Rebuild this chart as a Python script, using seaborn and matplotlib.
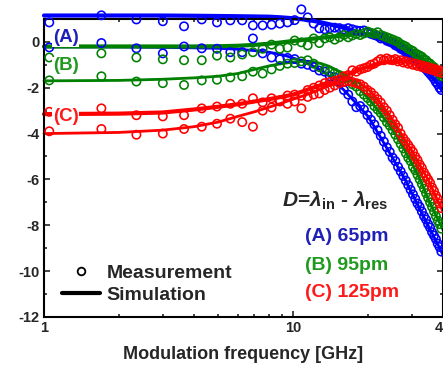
import matplotlib
matplotlib.use('Agg')
import matplotlib.pyplot as plt
import seaborn as sns
from matplotlib.lines import Line2D
from matplotlib.ticker import FixedLocator, NullFormatter

# ── Data ──────────────────────────────────────────────────────────────────────
freq_meas = [1.05, 1.70, 2.35, 3.00, 3.65, 4.30, 4.95, 5.60, 6.25, 6.90,
             7.55, 8.20, 8.85, 9.50, 10.15, 10.80, 11.45, 12.10, 12.75, 13.40,
             14.05, 14.70, 15.35, 16.00, 16.65, 17.30, 17.95, 18.60, 19.25, 19.90,
             20.55, 21.20, 21.85, 22.50, 23.15, 23.80, 24.45, 25.10, 25.75, 26.40,
             27.05, 27.70, 28.35, 29.00, 29.65, 30.30, 30.95, 31.60, 32.25, 32.90,
             33.55, 34.20, 34.85, 35.50, 36.15, 36.80, 37.45, 38.10, 38.75, 39.40]

meas_a_up = [0.85, 1.16, 0.98, 0.9, 0.68, 0.98, 0.85, 0.94, 0.94, 0.72,
             0.72, 0.75, 0.8, 0.85, 0.95, 1.42, 1.07, 0.8, 0.59, 0.55,
             0.6, 0.62, 0.6, 0.55, 0.6, 0.55, 0.5, 0.48, 0.5, 0.42,
             0.35, 0.3, 0.25, 0.15, 0.2, 0.05, 0.0, -0.05, -0.15, -0.2,
             -0.3, -0.35, -0.45, -0.5, -0.6, -0.7, -0.75, -0.85, -0.95, -1.0,
             -1.1, -1.2, -1.3, -1.4, -1.5, -1.6, -1.75, -1.85, -2.0, -2.1]
meas_a_lo = [-0.24, -0.05, -0.28, -0.5, -0.2, -0.28, -0.3, -0.45, -0.45, 0.15,
             -0.5, -0.68, -0.76, -0.7, -0.75, -0.95, -1.0, -1.1, -1.25, -1.3,
             -1.5, -1.55, -1.75, -2.1, -2.3, -2.6, -2.85, -2.8, -2.95, -3.2,
             -3.4, -3.6, -3.85, -4.1, -4.35, -4.6, -4.8, -5.05, -5.2, -5.45,
             -5.65, -5.85, -6.05, -6.25, -6.45, -6.65, -6.85, -7.05, -7.2, -7.4,
             -7.6, -7.75, -7.95, -8.1, -8.3, -8.45, -8.6, -8.8, -8.95, -9.15]
meas_b_up = [-0.68, -0.5, -0.68, -0.76, -0.8, -0.8, -0.6, -0.68, -0.55, -0.45,
             -0.3, -0.12, -0.3, -0.25, 0.06, -0.02, -0.15, 0.15, -0.05, 0.15,
             0.2, 0.1, 0.2, 0.3, 0.2, 0.28, 0.35, 0.3, 0.37, 0.45,
             0.4, 0.35, 0.42, 0.3, 0.25, 0.2, 0.15, 0.1, 0.05, 0.0,
             -0.1, -0.15, -0.2, -0.3, -0.35, -0.4, -0.5, -0.55, -0.6, -0.65,
             -0.75, -0.8, -0.9, -0.95, -1.05, -1.1, -1.2, -1.3, -1.4, -1.5]
meas_b_lo = [-1.68, -1.5, -1.73, -1.8, -1.88, -1.68, -1.65, -1.55, -1.5, -1.3,
             -1.38, -1.2, -1.05, -0.95, -0.92, -0.85, -0.8, -0.95, -1.1, -1.2,
             -1.3, -1.35, -1.45, -1.6, -1.7, -1.85, -1.95, -2.15, -2.3, -2.45,
             -2.6, -2.8, -2.95, -3.1, -3.3, -3.5, -3.65, -3.85, -4.05, -4.25,
             -4.45, -4.65, -4.85, -5.05, -5.2, -5.45, -5.6, -5.8, -6.0, -6.2,
             -6.4, -6.6, -6.8, -7.0, -7.2, -7.4, -7.6, -7.8, -7.95, -8.15]
meas_c_up = [-3.05, -2.9, -3.2, -3.25, -3.2, -2.9, -2.82, -2.7, -2.7, -2.46,
             -2.64, -2.46, -2.6, -2.34, -2.3, -2.35, -2.1, -2.0, -1.9, -1.8,
             -1.75, -1.7, -1.65, -1.5, -1.45, -1.24, -1.3, -1.2, -1.15, -1.1,
             -1.0, -0.95, -0.85, -0.75, -0.8, -0.72, -0.78, -0.8, -0.75, -0.85,
             -0.8, -0.9, -0.85, -0.95, -0.9, -1.0, -0.95, -1.05, -1.0, -1.1,
             -1.05, -1.15, -1.1, -1.2, -1.15, -1.25, -1.2, -1.3, -1.25, -1.35]
meas_c_lo = [-3.9, -3.8, -4.05, -4.0, -3.8, -3.7, -3.57, -3.35, -3.5, -3.7,
             -3.0, -2.86, -2.55, -2.7, -2.6, -2.9, -2.4, -2.3, -2.25, -2.1,
             -2.0, -1.9, -1.8, -1.75, -1.7, -1.75, -1.8, -1.85, -1.95, -2.1,
             -2.2, -2.35, -2.5, -2.65, -2.85, -3.0, -3.2, -3.4, -3.6, -3.75,
             -4.0, -4.2, -4.35, -4.5, -4.65, -4.8, -5.0, -5.15, -5.35, -5.5,
             -5.7, -5.85, -6.0, -6.15, -6.35, -6.5, -6.7, -6.85, -7.05, -7.25]

freq_sim = [1, 2, 3, 4, 5, 6, 7, 8, 9, 10, 11, 12, 13, 14, 16, 18, 20,
            22, 24, 26, 28, 30, 32, 35, 38, 40]
sim_a_up = [1.15, 1.15, 1.15, 1.14, 1.13, 1.12, 1.11, 1.1, 1.07, 1.03, 0.98, 0.92, 0.85,
            0.77, 0.62, 0.45, 0.3, 0.15, -0.05, -0.25, -0.45, -0.68, -0.92, -1.35, -1.8, -2.15]
sim_a_lo = [-0.22, -0.22, -0.24, -0.26, -0.28, -0.32, -0.38, -0.45, -0.55, -0.7, -0.86, -1.05, -1.25,
            -1.5, -2.1, -2.7, -3.25, -4.0, -4.7, -5.35, -5.95, -6.6, -7.2, -8.05, -8.8, -9.3]
sim_b_up = [-0.2, -0.2, -0.2, -0.2, -0.19, -0.17, -0.13, -0.08, -0.02, 0.04, 0.09, 0.14, 0.18,
            0.22, 0.28, 0.33, 0.34, 0.3, 0.2, 0.05, -0.15, -0.38, -0.6, -0.95, -1.35, -1.6]
sim_b_lo = [-1.7, -1.68, -1.63, -1.57, -1.5, -1.38, -1.2, -1.05, -0.95, -0.88, -0.84, -0.86, -0.95,
            -1.07, -1.4, -1.9, -2.45, -3.0, -3.55, -4.1, -4.7, -5.3, -5.9, -6.9, -7.7, -8.2]
sim_c_up = [-3.15, -3.13, -3.08, -2.95, -2.83, -2.72, -2.6, -2.5, -2.4, -2.3, -2.15, -2.0, -1.88,
            -1.75, -1.5, -1.25, -1.08, -0.95, -0.87, -0.84, -0.85, -0.9, -0.95, -1.05, -1.18, -1.3]
sim_c_lo = [-4.0, -3.95, -3.85, -3.7, -3.5, -3.25, -3.05, -2.85, -2.67, -2.5, -2.35, -2.2, -2.05,
            -1.9, -1.72, -1.72, -2.05, -2.55, -3.1, -3.65, -4.25, -4.75, -5.3, -6.05, -6.9, -7.4]

curve_labels = ['(A)', '(B)', '(C)']
label_y = [0.17, -1.05, -3.25]
detuning_labels = ['(A) 65pm', '(B) 95pm', '(C) 125pm']
line_colors = ['#0000ff', '#008000', '#ff0000']
text_colors = ['#2020b8', '#1f9a1f', '#ff1a1a']

x_ticks = [1, 10, 40]
y_ticks = [-12, -10, -8, -6, -4, -2, 0]

# ── Style ─────────────────────────────────────────────────────────────────────
sns.set_style('ticks')
plt.rcParams['font.family'] = ['Liberation Sans', 'DejaVu Sans']
plt.rcParams['font.weight'] = 'bold'
plt.rcParams['axes.unicode_minus'] = False
plt.rcParams['mathtext.fontset'] = 'custom'
plt.rcParams['mathtext.rm'] = 'Liberation Sans:bold'
plt.rcParams['mathtext.bf'] = 'Liberation Sans:bold'
plt.rcParams['mathtext.it'] = 'Liberation Sans:italic:bold'
plt.rcParams['mathtext.bfit'] = 'Liberation Sans:italic:bold'

fig = plt.figure(figsize=(4.43, 3.72), dpi=100)
ax = fig.add_axes([0.0993, 0.148, 0.9007, 0.801])

# ── Curves ────────────────────────────────────────────────────────────────────
series = [
    (meas_a_up, meas_a_lo, sim_a_up, sim_a_lo),
    (meas_b_up, meas_b_lo, sim_b_up, sim_b_lo),
    (meas_c_up, meas_c_lo, sim_c_up, sim_c_lo),
]
for (m_up, m_lo, s_up, s_lo), col in zip(series, line_colors):
    sns.lineplot(x=freq_sim, y=s_up, color=col, lw=3.0, ax=ax, clip_on=False,
                 legend=False, zorder=2)
    sns.lineplot(x=freq_sim, y=s_lo, color=col, lw=2.0, ax=ax, clip_on=False,
                 legend=False, zorder=2)
    for m in (m_up, m_lo):
        sns.scatterplot(x=freq_meas, y=m, marker='o', s=36, facecolor='none',
                        edgecolor=col, linewidth=1.15, ax=ax, clip_on=False,
                        legend=False, zorder=3)

# ── Axes ──────────────────────────────────────────────────────────────────────
ax.set_xscale('log')
ax.set_xlim(1, 40)
ax.set_ylim(-12, 1)
ax.xaxis.set_major_locator(FixedLocator(x_ticks))
ax.set_xticklabels([str(t) for t in x_ticks])
ax.xaxis.set_minor_locator(FixedLocator([2, 3, 4, 5, 6, 7, 8, 9, 20, 30]))
ax.xaxis.set_minor_formatter(NullFormatter())
ax.yaxis.set_major_locator(FixedLocator(y_ticks))
ax.set_yticklabels([str(t) for t in y_ticks])
ax.yaxis.set_minor_locator(FixedLocator([-11, -9, -7, -5, -3, -1]))
ax.tick_params(which='both', direction='in', top=True, right=True, width=1.2,
               labelsize=10.5, pad=3)
ax.tick_params(which='major', length=4.5)
ax.tick_params(which='minor', length=2.5)
for sp in ax.spines.values():
    sp.set_linewidth(1.5)
    sp.set_color('black')
ax.set_xlabel('Modulation frequency [GHz]', fontsize=13, fontweight='bold', labelpad=8)
ax.set_ylabel('')

# curve labels with white background
for lab, ly, tc in zip(curve_labels, label_y, text_colors):
    ax.text(1.085, ly, lab, color=tc, fontsize=13.5, fontweight='bold',
            ha='left', va='center', zorder=5,
            bbox=dict(facecolor='white', edgecolor='none', pad=0.3))

# detuning annotation
ax.text(0.596, 0.369,
        r'$\mathbfit{D}$=$\mathbfit{\lambda}_{\mathbf{in}}$ - $\mathbfit{\lambda}_{\mathbf{res}}$',
        transform=ax.transAxes, fontsize=15, fontweight='bold',
        ha='left', va='baseline', zorder=5)
for lab, by, tc in zip(detuning_labels, [0.255, 0.158, 0.067], text_colors):
    ax.text(0.654, by, lab, color=tc, fontsize=14, fontweight='bold',
            transform=ax.transAxes, ha='left', va='baseline', zorder=5)

# legend
handles = [
    Line2D([], [], ls='none', marker='o', ms=5.5, mfc='none', mec='black', mew=1.3),
    Line2D([], [], color='black', lw=3.0),
]
ax.legend(handles, ['Measurement', 'Simulation'], loc='lower left',
          bbox_to_anchor=(0.045, 0.045), frameon=False,
          handlelength=1.95, handletextpad=0.36, labelspacing=0.2,
          borderpad=0, borderaxespad=0, prop={'weight': 'bold', 'size': 14})

fig.savefig('out.png', dpi=100)
